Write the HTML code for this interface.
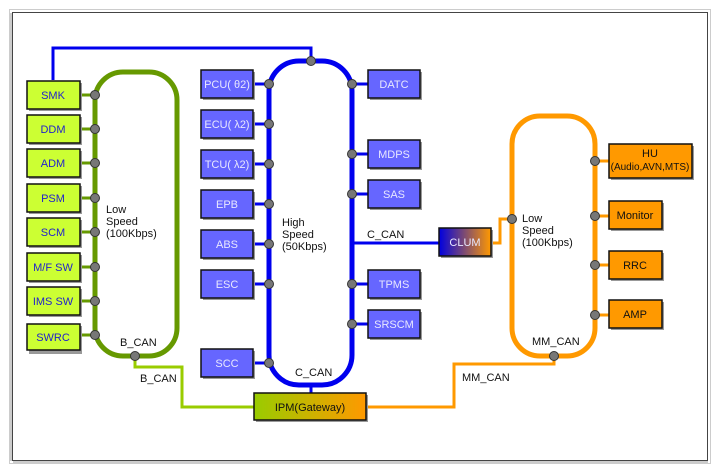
<!DOCTYPE html>
<html><head><style>
html,body{margin:0;padding:0;background:#fff;}
svg{display:block;font-family:"Liberation Sans",sans-serif;}
</style></head><body>
<svg width="720" height="472" viewBox="0 0 720 472" xmlns="http://www.w3.org/2000/svg">
<defs>
<linearGradient id="clum" x1="0" x2="1"><stop offset="0" stop-color="#0000e0"/><stop offset="1" stop-color="#ff9900"/></linearGradient>
<linearGradient id="ipm" x1="0" x2="1"><stop offset="0" stop-color="#99cc00"/><stop offset="1" stop-color="#ff9900"/></linearGradient>
</defs>
<rect x="9.5" y="9.5" width="701" height="454" fill="none" stroke="#ccc" stroke-width="1"/>
<rect x="12.5" y="12.5" width="695" height="448" fill="#fff" stroke="#444" stroke-width="1"/>
<line x1="11" y1="13" x2="11" y2="461" stroke="#999"/>
<line x1="13" y1="462" x2="708" y2="462" stroke="#999"/>

<polyline points="53,80 53,48 311,48 311,61" fill="none" stroke="#0000ee" stroke-width="3"/>
<polyline points="135,356 135,367 182,367 182,407 254,407" fill="none" stroke="#99cc00" stroke-width="3"/>
<polyline points="366,407 454,407 454,364 554,364 554,356" fill="none" stroke="#ff9900" stroke-width="3"/>
<line x1="311" y1="385" x2="311" y2="393" stroke="#0000ee" stroke-width="3"/>
<line x1="352" y1="243" x2="440" y2="243" stroke="#0000ee" stroke-width="3"/>
<polyline points="491,243 500,243 500,219 512,219" fill="none" stroke="#ff9900" stroke-width="3"/>

<g stroke="#669900" stroke-width="3">
<line x1="80" y1="95" x2="95" y2="95"/><line x1="80" y1="129" x2="95" y2="129"/><line x1="80" y1="163" x2="95" y2="163"/><line x1="80" y1="198" x2="95" y2="198"/><line x1="80" y1="232" x2="95" y2="232"/><line x1="80" y1="267" x2="95" y2="267"/><line x1="80" y1="301" x2="95" y2="301"/><line x1="80" y1="335" x2="95" y2="335"/>
</g>
<g stroke="#0000ee" stroke-width="3">
<line x1="253" y1="84" x2="269" y2="84"/><line x1="253" y1="124" x2="269" y2="124"/><line x1="253" y1="164" x2="269" y2="164"/><line x1="253" y1="204" x2="269" y2="204"/><line x1="253" y1="244" x2="269" y2="244"/><line x1="253" y1="284" x2="269" y2="284"/><line x1="253" y1="363" x2="269" y2="363"/>
<line x1="352" y1="84" x2="368" y2="84"/><line x1="352" y1="154" x2="368" y2="154"/><line x1="352" y1="194" x2="368" y2="194"/><line x1="352" y1="284" x2="368" y2="284"/><line x1="352" y1="324" x2="368" y2="324"/>
</g>
<g stroke="#ff9900" stroke-width="3">
<line x1="595" y1="161" x2="609" y2="161"/><line x1="595" y1="216" x2="609" y2="216"/><line x1="595" y1="265" x2="609" y2="265"/><line x1="595" y1="315" x2="609" y2="315"/>
</g>

<rect x="95" y="72" width="82" height="284" rx="28" fill="none" stroke="#669900" stroke-width="5"/>
<rect x="269" y="61" width="83" height="324" rx="30" fill="none" stroke="#0000ee" stroke-width="5"/>
<rect x="512" y="116" width="83" height="240" rx="28" fill="none" stroke="#ff9900" stroke-width="5"/>

<g fill="#777" stroke="#333" stroke-width="1">
<circle cx="95" cy="95" r="4.5"/><circle cx="95" cy="129" r="4.5"/><circle cx="95" cy="163" r="4.5"/><circle cx="95" cy="198" r="4.5"/><circle cx="95" cy="232" r="4.5"/><circle cx="95" cy="267" r="4.5"/><circle cx="95" cy="301" r="4.5"/><circle cx="95" cy="335" r="4.5"/><circle cx="135" cy="356" r="4.5"/>
<circle cx="311" cy="61" r="4.5"/>
<circle cx="269" cy="84" r="4.5"/><circle cx="269" cy="124" r="4.5"/><circle cx="269" cy="164" r="4.5"/><circle cx="269" cy="204" r="4.5"/><circle cx="269" cy="244" r="4.5"/><circle cx="269" cy="284" r="4.5"/><circle cx="269" cy="363" r="4.5"/>
<circle cx="352" cy="84" r="4.5"/><circle cx="352" cy="154" r="4.5"/><circle cx="352" cy="194" r="4.5"/><circle cx="352" cy="284" r="4.5"/><circle cx="352" cy="324" r="4.5"/>
<circle cx="512" cy="219" r="4.5"/><circle cx="554" cy="356" r="4.5"/>
<circle cx="595" cy="161" r="4.5"/><circle cx="595" cy="216" r="4.5"/><circle cx="595" cy="265" r="4.5"/><circle cx="595" cy="315" r="4.5"/>
</g>

<g font-size="11" text-anchor="middle" fill="#2222cc">
<g stroke="none" fill="#999">
<rect x="29" y="83" width="53" height="28"/><rect x="29" y="117" width="53" height="28"/><rect x="29" y="151" width="53" height="28"/><rect x="29" y="186" width="53" height="28"/><rect x="29" y="220" width="53" height="28"/><rect x="29" y="255" width="53" height="28"/><rect x="29" y="289" width="53" height="28"/><rect x="29" y="326" width="53" height="28"/>
</g>
<g fill="#ccff33" stroke="#111" stroke-width="1.5">
<rect x="27" y="81" width="53" height="28"/><rect x="27" y="115" width="53" height="28"/><rect x="27" y="149" width="53" height="28"/><rect x="27" y="184" width="53" height="28"/><rect x="27" y="218" width="53" height="28"/><rect x="27" y="253" width="53" height="28"/><rect x="27" y="287" width="53" height="28"/><rect x="27" y="324" width="53" height="26"/>
</g>
<text x="53" y="99">SMK</text><text x="53" y="133">DDM</text><text x="53" y="167">ADM</text><text x="53" y="202">PSM</text><text x="53" y="236">SCM</text><text x="53" y="271">M/F SW</text><text x="53" y="305">IMS SW</text><text x="53" y="341">SWRC</text>
</g>

<g font-size="11" text-anchor="middle" fill="#e8e8ff">
<g fill="#999">
<rect x="203" y="72" width="52" height="28"/><rect x="203" y="112" width="52" height="28"/><rect x="203" y="152" width="52" height="28"/><rect x="203" y="192" width="52" height="28"/><rect x="203" y="232" width="52" height="28"/><rect x="203" y="272" width="52" height="28"/><rect x="203" y="351" width="52" height="28"/>
<rect x="370" y="72" width="52" height="28"/><rect x="370" y="142" width="52" height="28"/><rect x="370" y="182" width="52" height="28"/><rect x="370" y="272" width="52" height="28"/><rect x="370" y="312" width="52" height="28"/>
</g>
<g fill="#6666ff" stroke="#111" stroke-width="1.5">
<rect x="201" y="70" width="52" height="28"/><rect x="201" y="110" width="52" height="28"/><rect x="201" y="150" width="52" height="28"/><rect x="201" y="190" width="52" height="28"/><rect x="201" y="230" width="52" height="28"/><rect x="201" y="270" width="52" height="28"/><rect x="201" y="349" width="52" height="28"/>
<rect x="368" y="70" width="52" height="28"/><rect x="368" y="140" width="52" height="28"/><rect x="368" y="180" width="52" height="28"/><rect x="368" y="270" width="52" height="28"/><rect x="368" y="310" width="52" height="28"/>
</g>
<text x="227" y="88">PCU( θ2)</text><text x="227" y="128">ECU( λ2)</text><text x="227" y="168">TCU( λ2)</text><text x="227" y="208">EPB</text><text x="227" y="248">ABS</text><text x="227" y="288">ESC</text><text x="227" y="367">SCC</text>
<text x="394" y="88">DATC</text><text x="394" y="158">MDPS</text><text x="394" y="198">SAS</text><text x="394" y="288">TPMS</text><text x="394" y="328">SRSCM</text>
</g>

<g font-size="11" text-anchor="middle" fill="#111">
<g fill="#999">
<rect x="611" y="146" width="83" height="34"/><rect x="611" y="203" width="53" height="28"/><rect x="611" y="253" width="53" height="28"/><rect x="611" y="302" width="53" height="28"/>
</g>
<g fill="#ff9900" stroke="#111" stroke-width="1.5">
<rect x="609" y="144" width="83" height="34"/><rect x="609" y="201" width="53" height="28"/><rect x="609" y="251" width="53" height="28"/><rect x="609" y="300" width="53" height="28"/>
</g>
<text x="650" y="157">HU</text><text x="650" y="170" font-size="10">(Audio,AVN,MTS)</text>
<text x="635" y="219">Monitor</text><text x="635" y="269">RRC</text><text x="635" y="318">AMP</text>
</g>

<rect x="441" y="230" width="52" height="28" fill="#999"/>
<rect x="439" y="228" width="52" height="28" fill="url(#clum)" stroke="#111" stroke-width="1.5"/>
<text x="465" y="246" font-size="11" text-anchor="middle" fill="#e8e8ff">CLUM</text>
<rect x="256" y="395" width="112" height="27" fill="#999"/>
<rect x="254" y="393" width="112" height="27" fill="url(#ipm)" stroke="#111" stroke-width="1.5"/>
<text x="310" y="411" font-size="11" text-anchor="middle" fill="#111">IPM(Gateway)</text>

<g font-size="11" fill="#111">
<text x="106" y="213">Low</text><text x="106" y="225">Speed</text><text x="106" y="237">(100Kbps)</text>
<text x="282" y="226">High</text><text x="282" y="238">Speed</text><text x="282" y="250">(50Kbps)</text>
<text x="522" y="222">Low</text><text x="522" y="234">Speed</text><text x="522" y="246">(100Kbps)</text>
<text x="367" y="238">C_CAN</text>
<text x="295" y="376">C_CAN</text>
<text x="120" y="346">B_CAN</text>
<text x="140" y="382">B_CAN</text>
<text x="532" y="345">MM_CAN</text>
<text x="462" y="381">MM_CAN</text>
</g>
</svg>
</body></html>
